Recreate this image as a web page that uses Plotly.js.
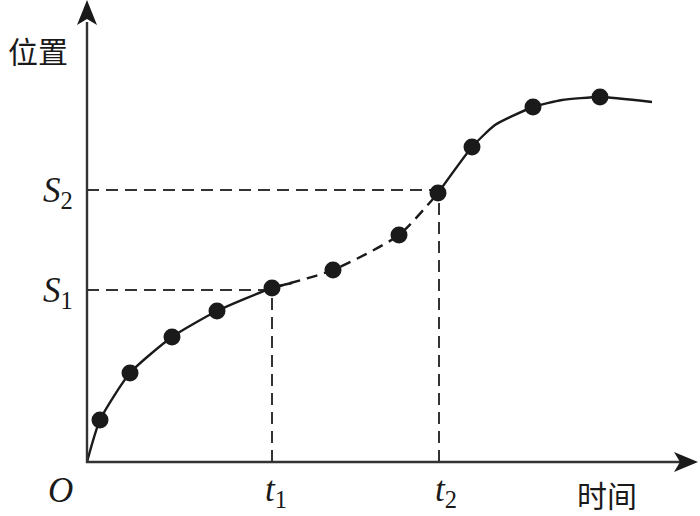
<!DOCTYPE html>
<html><head><meta charset="utf-8">
<script src="https://cdn.plot.ly/plotly-3.0.1.min.js"></script>
<style>body{margin:0;background:#fff}#c{width:700px;height:516px}</style>
</head><body><div id="c"></div><script>
// data (time units, position units)
const ptX = [1.3, 4.3, 8.5, 13.0, 18.5, 24.6, 31.2, 35.1, 38.5, 44.6, 51.3];
const ptY = [4.2, 8.9, 12.5, 15.1, 17.4, 19.2, 22.7, 26.9, 31.5, 35.5, 36.5];
const solid1X = [0, 1.3, 4.3, 8.5, 13.0, 18.5, 20.5];
const solid1Y = [0, 4.2, 8.9, 12.5, 15.1, 17.4, 17.9];
const dashX = [18.5, 24.6, 31.2, 35.1];
const dashY = [17.4, 19.2, 22.7, 26.9];
const solid2X = [35.1, 38.5, 40.8, 44.6, 47.5, 51.3, 56.5];
const solid2Y = [26.9, 31.5, 33.7, 35.5, 36.2, 36.5, 36.0];
const t1 = 18.5, t2 = 35.2, S1 = 17.2, S2 = 27.2;
const labelT1 = "<i>t</i><sub>1</sub>", labelT2 = "<i>t</i><sub>2</sub>";
const labelS1 = "<i>S</i><sub>1</sub>", labelS2 = "<i>S</i><sub>2</sub>", labelO = "<i>O</i>";
const xTitle = "时间", yTitle = "位置";
const xMax = 61, yMax = 46.2;

const ink = "#1a1a1a", axisC = "#333";
const dashStyle = "12px,7px";
const L = 87, W = 610, H = 462;
function px(x) { return (x - L) / W; }
function py(y) { return (H - y) / H; }
const traces = [
  {x: [0, t1], y: [S1, S1], mode: "lines", line: {color: axisC, width: 2, dash: dashStyle}},
  {x: [t1, t1], y: [0, S1], mode: "lines", line: {color: axisC, width: 2, dash: dashStyle}},
  {x: [0, t2], y: [S2, S2], mode: "lines", line: {color: axisC, width: 2, dash: dashStyle}},
  {x: [t2, t2], y: [0, S2], mode: "lines", line: {color: axisC, width: 2, dash: dashStyle}},
  {x: solid1X, y: solid1Y, mode: "lines", line: {color: ink, width: 2.4, shape: "spline", smoothing: 0.6}},
  {x: dashX, y: dashY, mode: "lines", line: {color: ink, width: 2.4, shape: "spline", smoothing: 0.6, dash: "11px,7px"}},
  {x: solid2X, y: solid2Y, mode: "lines", line: {color: ink, width: 2.4, shape: "spline", smoothing: 0.5}},
  {x: ptX, y: ptY, mode: "markers", marker: {color: ink, size: 17}, cliponaxis: false}
];
// axes + arrowheads in paper coords (pixels converted) so they are not clipped
const shapes = [
  {type: "line", xref: "paper", yref: "paper", x0: px(87), x1: px(87), y0: py(463), y1: py(22), line: {color: axisC, width: 2.4}},
  {type: "line", xref: "paper", yref: "paper", x0: px(86), x1: px(680), y0: py(462), y1: py(462), line: {color: axisC, width: 2.4}},
  {type: "path", xref: "paper", yref: "paper", fillcolor: ink, line: {width: 0},
   path: `M ${px(87)} ${py(0)} L ${px(77)} ${py(25)} L ${px(87)} ${py(19)} L ${px(97)} ${py(25)} Z`},
  {type: "path", xref: "paper", yref: "paper", fillcolor: ink, line: {width: 0},
   path: `M ${px(698)} ${py(462)} L ${px(674)} ${py(452)} L ${px(680)} ${py(462)} L ${px(674)} ${py(472)} Z`}
];
const serif = {family: "Liberation Serif, Times New Roman, serif", size: 35, color: ink};
const cjk = {family: "Noto Sans CJK SC, sans-serif", size: 30, color: ink};
const annotations = [
  {text: yTitle, x: px(38), y: py(50), font: cjk},
  {text: xTitle, x: px(607), y: py(494), font: cjk},
  {text: labelS2, x: px(58), y: py(192), font: serif},
  {text: labelS1, x: px(58), y: py(292), font: serif},
  {text: labelO, x: px(60), y: py(490), font: serif},
  {text: labelT1, x: px(276), y: py(492), font: serif},
  {text: labelT2, x: px(446), y: py(492), font: serif}
].map(a => Object.assign({xref: "paper", yref: "paper", showarrow: false, xanchor: "center", yanchor: "middle"}, a));

Plotly.newPlot("c", traces, {
  width: 700, height: 516, showlegend: false,
  margin: {l: L, r: 3, t: 0, b: 54, pad: 0},
  paper_bgcolor: "#fff", plot_bgcolor: "#fff",
  xaxis: {visible: false, range: [0, xMax], fixedrange: true},
  yaxis: {visible: false, range: [0, yMax], fixedrange: true},
  shapes: shapes, annotations: annotations
}, {staticPlot: true});
</script></body></html>
